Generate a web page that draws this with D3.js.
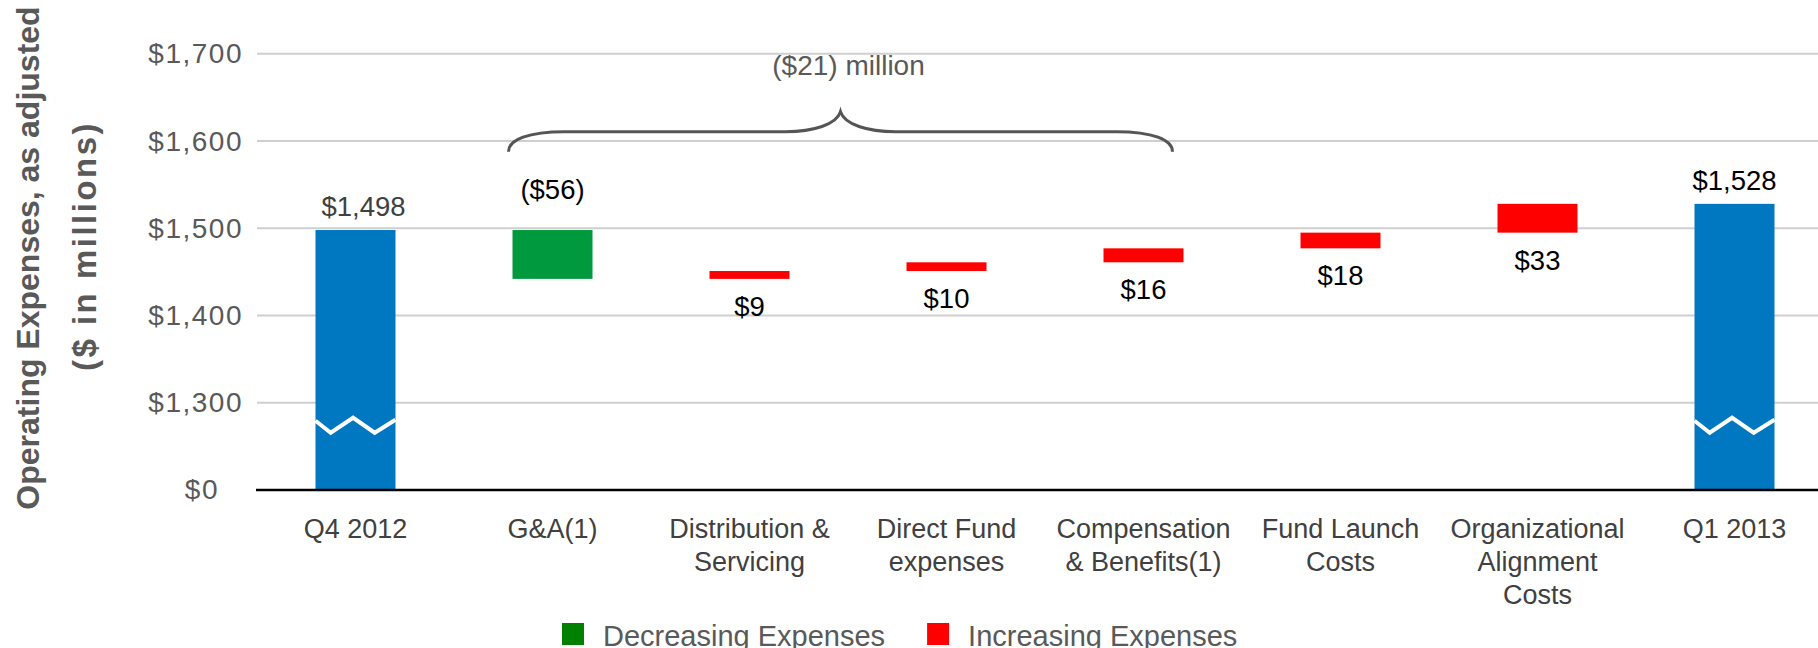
<!DOCTYPE html>
<html>
<head>
<meta charset="utf-8">
<script src="https://cdn.jsdelivr.net/npm/d3@7"></script>
<style>
  body { margin: 0; background: #fff; }
  text { font-family: Arial, "Liberation Sans", sans-serif; }
</style>
</head>
<body>
<svg id="opex-waterfall" width="1818" height="648"></svg>
<script>
// categories along the x axis, "\n" splits a label into lines
const categories = [
    "Q4 2012",
    "G&A(1)",
    "Distribution &\nServicing",
    "Direct Fund\nexpenses",
    "Compensation\n& Benefits(1)",
    "Fund Launch\nCosts",
    "Organizational\nAlignment\nCosts",
    "Q1 2013"
];
// first and last are totals, the rest are changes ($ millions)
const values = [1498, -56, 9, 10, 16, 18, 33, 1528];
const isTotal = [true, false, false, false, false, false, false, true];

// broken axis: the bottom tick stands for $0
const tickValues = [1200, 1300, 1400, 1500, 1600, 1700];
const tickLabels = ["$0", "$1,300", "$1,400", "$1,500", "$1,600", "$1,700"];

const legendItems = ["Decreasing Expenses", "Increasing Expenses"];
const braceFrom = "G&A(1)";
const braceTo = "Compensation\n& Benefits(1)";
const braceLabel = "($21) million";

const colors = {total: "#0078c1", decrease: "#00993d", increase: "#ff0000"};
const legendColors = ["#008000", "#ff0000"];

var svg = d3.select("#opex-waterfall");

var x = d3.scaleBand()
    .domain(categories)
    .range([257, 1833])
    .paddingInner(0.594)
    .paddingOuter(0.297);

var y = d3.scaleLinear()
    .domain([1200, 1700])
    .range([490, 53.8]);

// build the waterfall steps
var running = 0;
var bars = values.map(function(v, i) {
    var b = {cat: categories[i], value: v, total: isTotal[i]};
    if (isTotal[i]) {
        b.lo = y.domain()[0]; b.hi = v; running = v;
        b.kind = "total";
    } else {
        b.lo = Math.min(running, running + v);
        b.hi = Math.max(running, running + v);
        running += v;
        b.kind = v < 0 ? "decrease" : "increase";
    }
    return b;
});

//Gridlines
svg.append("g").selectAll("line")
    .data(tickValues.slice(1))
    .enter().append("line")
    .attr("x1", 257).attr("x2", 1818)
    .attr("y1", d => y(d)).attr("y2", d => y(d))
    .attr("stroke", "#cfcfcf")
    .attr("stroke-width", 2);

//Y axis labels
var yAxis = svg.append("g")
    .attr("transform", "translate(257,0)")
    .call(d3.axisLeft(y).tickValues(tickValues).tickFormat((d, i) => tickLabels[i]).tickSize(0).tickPadding(14));
yAxis.select(".domain").remove();
yAxis.selectAll("text")
    .attr("font-size", 28)
    .attr("letter-spacing", 1.5)
    .attr("font-family", "Arial, 'Liberation Sans', sans-serif")
    .attr("fill", "#595959")
    .attr("dx", d => d === 1200 ? -24 : 0);

//Bars
svg.append("g").selectAll("rect")
    .data(bars)
    .enter().append("rect")
    .attr("x", d => x(d.cat))
    .attr("width", x.bandwidth())
    .attr("y", d => y(d.hi))
    .attr("height", d => y(d.lo) - y(d.hi))
    .attr("fill", d => colors[d.kind]);

//Axis break zigzag on the total bars
var zigX = [0, 0.19, 0.47, 0.74, 1];
var zigY = [18, 30, 15, 30, 17];
svg.append("g").selectAll("polyline")
    .data(bars.filter(d => d.total))
    .enter().append("polyline")
    .attr("points", function(d) {
        return zigX.map((f, k) => (x(d.cat) + f * x.bandwidth()) + "," + (y(1300) + zigY[k])).join(" ");
    })
    .attr("fill", "none")
    .attr("stroke", "#fff")
    .attr("stroke-width", 4);

//Baseline
svg.append("line")
    .attr("x1", 256).attr("x2", 1818)
    .attr("y1", y(1200)).attr("y2", y(1200))
    .attr("stroke", "#000")
    .attr("stroke-width", 2.5);

//Value labels
function fmt(d) {
    var s = "$" + d3.format(",")(Math.abs(d.value));
    return d.value < 0 ? "(" + s + ")" : s;
}
svg.append("g").selectAll("text")
    .data(bars)
    .enter().append("text")
    .text(fmt)
    .attr("x", d => x(d.cat) + x.bandwidth() / 2 + (d === bars[0] ? 8 : 0))
    .attr("y", function(d) {
        if (d.kind == "total") return y(d.hi) - 14;
        if (d.kind == "decrease") return y(d.hi) - 31;
        return y(d.lo) + 37;
    })
    .attr("text-anchor", "middle")
    .attr("font-size", 27.5)
    .attr("fill", (d, i) => i === 0 ? "#404040" : "#000");

//X axis category labels
var xLabels = svg.append("g").selectAll("text")
    .data(categories)
    .enter().append("text")
    .attr("x", d => x(d) + x.bandwidth() / 2)
    .attr("y", 538)
    .attr("text-anchor", "middle")
    .attr("font-size", 27)
    .attr("fill", "#404040");
xLabels.selectAll("tspan")
    .data(d => d.split("\n"))
    .enter().append("tspan")
    .attr("x", function() { return this.parentNode.getAttribute("x"); })
    .attr("dy", (d, i) => i === 0 ? 0 : 33)
    .text(d => d);

//Brace over the change bars
var bL = x(braceFrom) - 4;
var bR = x(braceTo) + x.bandwidth() - 11;
var bM = (bL + bR) / 2;
var yb = y(1600);
var yEnd = yb + 10.6, yH = yb - 9.4, yTip = yb - 29.4;
var bracePath = d3.path();
bracePath.moveTo(bL, yEnd);
bracePath.bezierCurveTo(bL, yEnd - 12, bL + 20, yH, bL + 56, yH);
bracePath.lineTo(bM - 55, yH);
bracePath.bezierCurveTo(bM - 27, yH, bM - 4, yH - 7, bM, yTip);
bracePath.bezierCurveTo(bM + 4, yH - 7, bM + 27, yH, bM + 55, yH);
bracePath.lineTo(bR - 56, yH);
bracePath.bezierCurveTo(bR - 20, yH, bR, yEnd - 12, bR, yEnd);
svg.append("path")
    .attr("d", bracePath.toString())
    .attr("fill", "none")
    .attr("stroke", "#555")
    .attr("stroke-width", 3);

svg.append("text")
    .text(braceLabel)
    .attr("x", bM + 8)
    .attr("y", 75)
    .attr("text-anchor", "middle")
    .attr("font-size", 28)
    .attr("fill", "#595959");

//Y axis title
svg.append("text")
    .attr("transform", "translate(39,258) rotate(-90)")
    .attr("text-anchor", "middle")
    .attr("font-size", 32)
    .attr("font-weight", "bold")
    .attr("fill", "#595959")
    .text("Operating Expenses, as adjusted");
svg.append("text")
    .attr("transform", "translate(96,246) rotate(-90)")
    .attr("text-anchor", "middle")
    .attr("font-size", 33)
    .attr("letter-spacing", 2.5)
    .attr("font-weight", "bold")
    .attr("fill", "#595959")
    .text("($ in millions)");

//Legend
var legend = svg.append("g");
var lx = 562;
legendItems.forEach(function(name, i) {
    legend.append("rect")
        .attr("x", lx).attr("y", 623)
        .attr("width", 22).attr("height", 22)
        .attr("fill", legendColors[i]);
    var t = legend.append("text")
        .attr("x", lx + 41).attr("y", 646)
        .attr("font-size", 29)
        .attr("fill", "#595959")
        .text(name);
    lx = lx + 41 + t.node().getComputedTextLength() + 42;
});
</script>
</body>
</html>
